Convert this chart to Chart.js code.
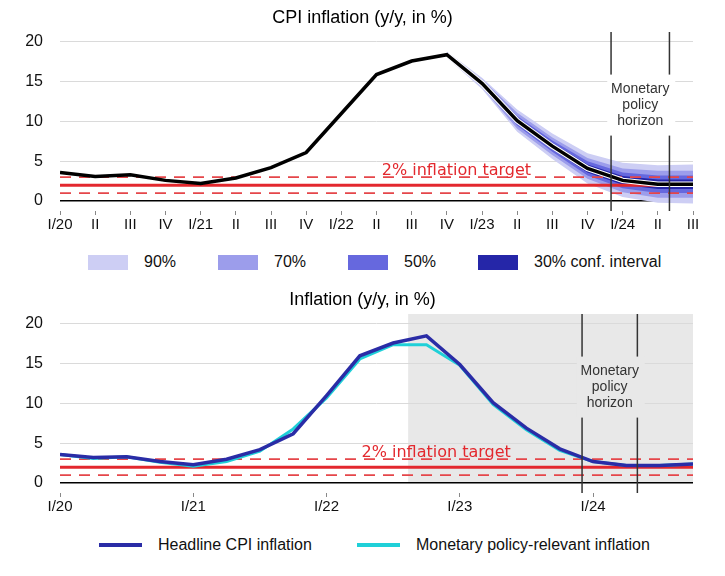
<!DOCTYPE html>
<html>
<head>
<meta charset="utf-8">
<script src="https://cdn.jsdelivr.net/npm/chart.js@4.4.0/dist/chart.umd.min.js"></script>
<style>
  body { margin: 0; background: #fff; font-family: "Liberation Sans", Arial, sans-serif; }
  #page { position: relative; width: 725px; height: 576px; overflow: hidden; }
  canvas { position: absolute; left: 0; }
  #cpi-chart { top: 0; }
  #infl-chart { top: 282px; }
  .legend { position: absolute; left: 0; width: 725px; display: flex; align-items: center; font-size: 16px; color: #111; white-space: nowrap; }
  #fan-legend { top: 252px; height: 20px; padding-left: 88px; box-sizing: border-box; }
  #line-legend { top: 535px; height: 20px; padding-left: 99px; box-sizing: border-box; }
  #fan-legend .item { width: 130px; }
  #line-legend .item { width: 258px; }
  .legend .item:last-child { width: auto; }
  .item { display: flex; align-items: center; flex: none; }
  .swatch { width: 40px; height: 15px; margin-right: 16px; flex: none; }
  .stroke { width: 43px; height: 4px; margin-right: 16px; flex: none; }
</style>
</head>
<body>
<div id="page">
  <canvas id="cpi-chart" width="725" height="240"></canvas>
  <div class="legend" id="fan-legend"></div>
  <canvas id="infl-chart" width="725" height="240"></canvas>
  <div class="legend" id="line-legend"></div>
</div>
<script>
// ---- data ----
const QUARTER_LABELS = ['I/20', 'II', 'III', 'IV', 'I/21', 'II', 'III', 'IV', 'I/22', 'II', 'III', 'IV',
                        'I/23', 'II', 'III', 'IV', 'I/24', 'II', 'III'];
const YEAR_LABELS = ['I/20', 'I/21', 'I/22', 'I/23', 'I/24'];
const YEAR_TICKS = [0, 4, 8, 12, 16];
const Y_TICKS = [0, 5, 10, 15, 20];

// top chart: CPI with forecast fan (forecast starts at IV/22)
const CPI = [3.6, 3.1, 3.3, 2.6, 2.2, 2.9, 4.2, 6.1, 11.0, 15.9, 17.6, 18.4,
             14.8, 10.1, 6.9, 4.1, 2.6, 2.1, 2.1];
const FORECAST_START = 11;
const BAND90_HI = [18.8, 15.5, 11.5, 8.5, 6.0, 4.8, 4.5, 4.6];
const BAND90_LO = [18.0, 14.1, 8.7, 5.3, 2.2, 0.5, -0.2, -0.3];
const BAND70_HI = [18.65, 15.3, 11.1, 8.0, 5.4, 4.1, 3.8, 3.8];
const BAND70_LO = [18.15, 14.3, 9.1, 5.8, 2.8, 1.1, 0.4, 0.4];
const BAND50_HI = [18.5, 15.1, 10.7, 7.6, 5.0, 3.6, 3.2, 3.2];
const BAND50_LO = [18.3, 14.5, 9.5, 6.2, 3.2, 1.6, 1.0, 1.0];
const BAND30_HI = [18.45, 14.95, 10.45, 7.3, 4.6, 3.15, 2.7, 2.7];
const BAND30_LO = [18.35, 14.65, 9.75, 6.5, 3.6, 2.05, 1.5, 1.5];

// bottom chart: quarterly, I/20 .. IV/24
const HEADLINE = [3.6, 3.2, 3.3, 2.7, 2.3, 3.0, 4.2, 6.2, 11.0, 16.0, 17.6, 18.5,
                  14.9, 10.1, 6.9, 4.3, 2.7, 2.2, 2.2, 2.4];
const RELEVANT = [3.6, 3.1, 3.3, 2.6, 2.1, 2.7, 4.0, 6.8, 10.7, 15.6, 17.4, 17.4,
                  14.8, 9.9, 6.7, 4.1, 2.7, 2.2, 2.2, 2.4];

const TARGET = 2;
const TOLERANCE = [1, 3];
const HORIZON = [15.67, 17.33];   // monetary policy horizon, in quarters from I/20
const SHADE_FROM = 10.45;         // start of grey shaded area (bottom chart)

const FAN_COLORS = { c90: '#cdcef4', c70: '#9c9deb', c50: '#6668de', c30: '#2526a8' };
const FAN_LEGEND = [['90%', FAN_COLORS.c90], ['70%', FAN_COLORS.c70], ['50%', FAN_COLORS.c50], ['30% conf. interval', FAN_COLORS.c30]];
const LINE_LEGEND = [['Headline CPI inflation', '#2a2ca6'], ['Monetary policy-relevant inflation', '#1fd0d8']];

const FONT = '"Liberation Sans", Arial, sans-serif';

function points(arr) {
    return arr.map((v, i) => ({ x: i, y: v }));
}

// ---- plugin: target band, horizon lines, shading ----
const overlayPlugin = {
    id: 'overlay',
    beforeDraw(chart, args, opts) {
        if (opts.shadeFrom == null) return;
        const { ctx, chartArea, scales: { x, y } } = chart;
        const left = x.getPixelForValue(opts.shadeFrom);
        const bottom = y.getPixelForValue(0);
        ctx.save();
        ctx.fillStyle = opts.shadeColor;
        ctx.fillRect(left, chartArea.top, chartArea.right - left, bottom - chartArea.top);
        ctx.restore();
    },
    beforeDatasetDraw(chart, args, opts) {
        if (args.index !== opts.targetBelow) return;
        const { ctx, chartArea, scales: { x, y } } = chart;
        ctx.save();
        ctx.strokeStyle = '#e5464a';
        ctx.lineWidth = 1.8;
        ctx.setLineDash([11, 8]);
        TOLERANCE.forEach(v => {
            const py = y.getPixelForValue(v);
            ctx.beginPath();
            ctx.moveTo(chartArea.left, py);
            ctx.lineTo(chartArea.right, py);
            ctx.stroke();
        });
        ctx.setLineDash([]);
        ctx.strokeStyle = '#e3282e';
        ctx.lineWidth = 3;
        const pt = y.getPixelForValue(TARGET);
        ctx.beginPath();
        ctx.moveTo(chartArea.left, pt);
        ctx.lineTo(chartArea.right, pt);
        ctx.stroke();

        ctx.fillStyle = '#e3282e';
        ctx.font = '16px "DejaVu Sans", sans-serif';
        ctx.textAlign = 'left';
        ctx.textBaseline = 'alphabetic';
        ctx.fillText('2% inflation target', x.getPixelForValue(opts.labelX), y.getPixelForValue(TOLERANCE[1]) - 2.5);
        ctx.restore();
    },
    afterDatasetsDraw(chart, args, opts) {
        const { ctx, chartArea, scales: { x, y } } = chart;
        ctx.save();
        ctx.strokeStyle = '#333';
        ctx.lineWidth = 1.5;
        HORIZON.forEach(v => {
            const px = x.getPixelForValue(v);
            ctx.beginPath();
            ctx.moveTo(px, chartArea.top);
            ctx.lineTo(px, chartArea.bottom);
            ctx.stroke();
        });
        const cx = (x.getPixelForValue(HORIZON[0]) + x.getPixelForValue(HORIZON[1])) / 2;
        const cy = y.getPixelForValue(12);
        ctx.fillStyle = opts.boxColor;
        ctx.fillRect(cx - 33, cy - 31, 68, 61);
        ctx.fillStyle = '#333';
        ctx.font = '14px ' + FONT;
        ctx.textAlign = 'center';
        ctx.textBaseline = 'middle';
        ctx.fillText('Monetary', cx, cy - 16);
        ctx.fillText('policy', cx, cy);
        ctx.fillText('horizon', cx, cy + 16);
        ctx.restore();
    }
};

function baseOptions(title, xMax, tickPositions, tickLabels, overlay) {
    return {
        responsive: false,
        animation: false,
        events: [],
        layout: { padding: { left: 0, right: 0, top: 0, bottom: 5 } },
        plugins: {
            legend: { display: false },
            tooltip: { enabled: false },
            title: {
                display: true,
                text: title,
                color: '#000',
                font: { family: FONT, size: 18, weight: 'normal' },
                padding: { top: 7, bottom: 3.4 }
            },
            overlay: overlay
        },
        elements: { point: { radius: 0 }, line: { tension: 0 } },
        scales: {
            x: {
                type: 'linear',
                min: 0,
                max: xMax,
                border: { display: false },
                grid: { drawOnChartArea: false, drawTicks: true, tickLength: 4, tickColor: '#888' },
                afterBuildTicks: axis => { axis.ticks = tickPositions.map(v => ({ value: v })); },
                ticks: {
                    autoSkip: false,
                    maxRotation: 0,
                    padding: 1,
                    color: '#111',
                    font: { family: FONT, size: 15 },
                    callback: value => tickLabels[tickPositions.indexOf(value)]
                }
            },
            y: {
                min: -1.25,
                max: 21.25,
                border: { display: false },
                afterFit: axis => { axis.width = 60; },
                afterBuildTicks: axis => { axis.ticks = Y_TICKS.map(v => ({ value: v })); },
                grid: {
                    drawTicks: false,
                    color: ctx => ctx.tick && ctx.tick.value === 0 ? '#000' : '#dadada',
                    lineWidth: ctx => ctx.tick && ctx.tick.value === 0 ? 1.5 : 1
                },
                ticks: { padding: 17, color: '#111', font: { family: FONT, size: 16 } }
            },
            // empty right-hand axis, only keeps the plot 32px from the right edge
            yRight: {
                position: 'right',
                border: { display: false },
                grid: { display: false },
                ticks: { display: false },
                afterFit: axis => { axis.width = 32; }
            }
        }
    };
}

// ---- top chart ----
const pad = arr => Array(FORECAST_START).fill(null).concat(arr);
function band(hi, lo, color) {
    return [
        { data: points(pad(hi)), borderWidth: 0, backgroundColor: color, fill: '+1', spanGaps: false },
        { data: points(pad(lo)), borderWidth: 0, backgroundColor: color, fill: false, spanGaps: false }
    ];
}

const quarterTicks = QUARTER_LABELS.map((_, i) => i);

new Chart(document.getElementById('cpi-chart'), {
    type: 'line',
    data: {
        datasets: [
            { data: points(CPI), borderColor: '#000', borderWidth: 3.5, fill: false },
            { data: points(pad(CPI.slice(FORECAST_START))), borderColor: '#fff', borderWidth: 5.5, fill: false },
            ...band(BAND30_HI, BAND30_LO, FAN_COLORS.c30),
            ...band(BAND50_HI, BAND50_LO, FAN_COLORS.c50),
            ...band(BAND70_HI, BAND70_LO, FAN_COLORS.c70),
            ...band(BAND90_HI, BAND90_LO, FAN_COLORS.c90)
        ]
    },
    options: baseOptions('CPI inflation (y/y, in %)', QUARTER_LABELS.length - 1, quarterTicks, QUARTER_LABELS,
        { targetBelow: 1, labelX: 9.15, boxColor: '#fff', shadeFrom: null }),
    plugins: [overlayPlugin]
});

// ---- bottom chart ----
new Chart(document.getElementById('infl-chart'), {
    type: 'line',
    data: {
        datasets: [
            { data: points(HEADLINE), borderColor: LINE_LEGEND[0][1], borderWidth: 3.5, fill: false },
            { data: points(RELEVANT), borderColor: LINE_LEGEND[1][1], borderWidth: 3, fill: false }
        ]
    },
    options: baseOptions('Inflation (y/y, in %)', HEADLINE.length - 1, YEAR_TICKS, YEAR_LABELS,
        { targetBelow: 1, labelX: 9.05, boxColor: '#e8e8e8', shadeFrom: SHADE_FROM, shadeColor: '#e8e8e8' }),
    plugins: [overlayPlugin]
});

// ---- legends ----
const fanLegend = document.getElementById('fan-legend');
FAN_LEGEND.forEach(([label, color]) => {
    const item = document.createElement('div');
    item.className = 'item';
    item.innerHTML = '<span class="swatch" style="background:' + color + '"></span><span>' + label + '</span>';
    fanLegend.appendChild(item);
});
const lineLegend = document.getElementById('line-legend');
LINE_LEGEND.forEach(([label, color]) => {
    const item = document.createElement('div');
    item.className = 'item';
    item.innerHTML = '<span class="stroke" style="background:' + color + '"></span><span>' + label + '</span>';
    lineLegend.appendChild(item);
});
</script>
</body>
</html>
